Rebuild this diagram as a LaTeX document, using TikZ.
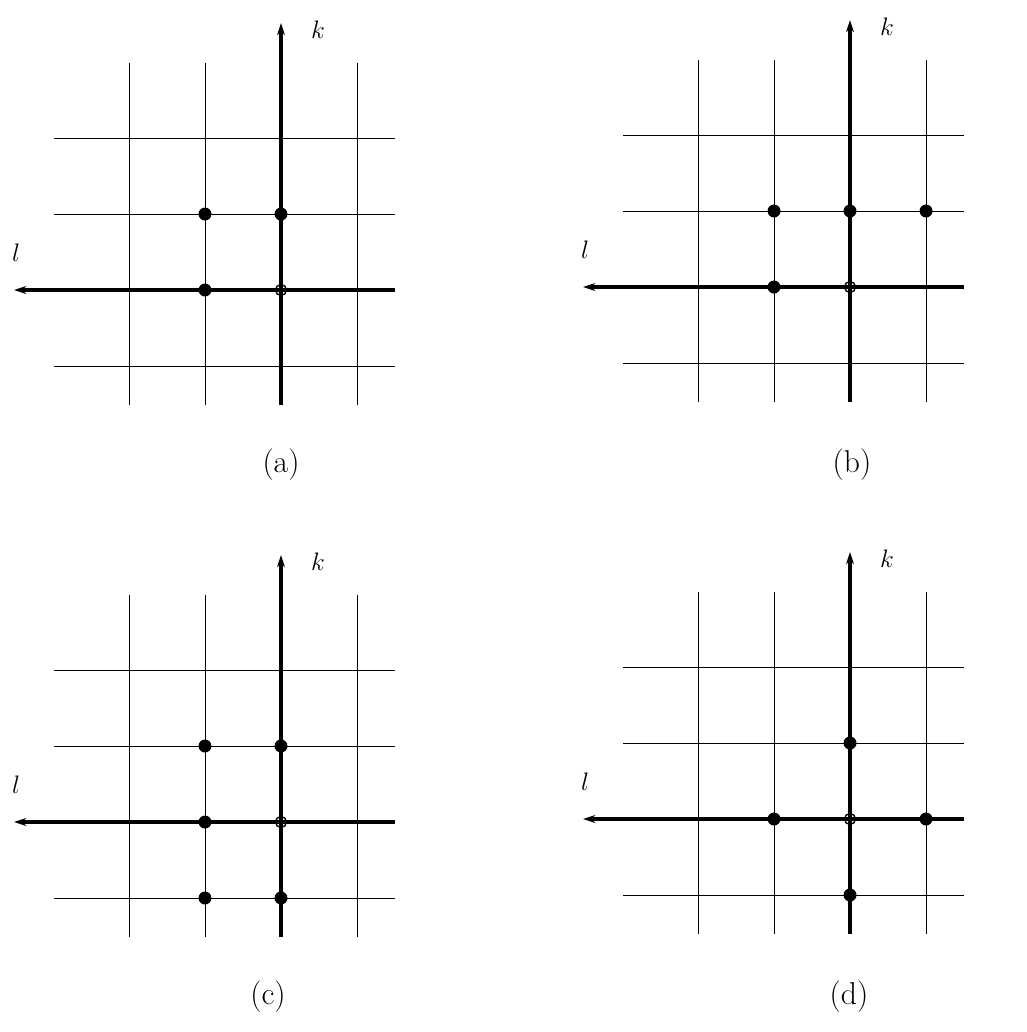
\documentclass[tikz,border=0pt]{standalone}
\usetikzlibrary{arrows.meta}
\begin{document}
\begin{tikzpicture}[
    x=0.02cm, y=-0.02cm,
    gridline/.style={line width=0.55pt, black},
    axis/.style={line width=2pt, -{Stealth[length=7pt, width=4.5pt]}},
    site/.style={circle, fill=black, inner sep=0pt, minimum size=0.26cm},
    origin/.style={circle, draw=black, line width=0.8pt, inner sep=0pt, minimum size=0.22cm},
    lbl/.style={font=\fontsize{14.5}{16}\selectfont},
    caption/.style={font=\fontsize{18}{20}\selectfont}
]
    \useasboundingbox (0,0) rectangle (1027,1032);
    \def\u{76}

    % one panel per entry: name / origin / caption position / lattice sites
    \foreach \n/\ox/\oy/\cx/\cy/\pts in {
        a/281/290/281/465/{-1/0,-1/1,0/1},
        b/850/287/852/465/{-1/1,0/1,1/1,-1/0},
        c/281/822/268/997/{-1/1,0/1,-1/0,-1/-1,0/-1},
        d/850/819/849/997/{0/1,-1/0,1/0,0/-1}}{
    \begin{scope}[shift={(\ox,\oy)}]
        % thin grid lines
        \foreach \i in {-2,-1,1}
            \draw[gridline] ({\i*\u},-227) -- ({\i*\u},115);
        \foreach \j in {-1,1,2}
            \draw[gridline] (-227,{-(\j)*\u}) -- (114,{-(\j)*\u});

        % axes
        \coordinate (\n-o) at (0,0);
        \coordinate (\n-ktip) at (0,-267);
        \coordinate (\n-kend) at (0,115);
        \coordinate (\n-ltip) at (-267,0);
        \coordinate (\n-lend) at (114,0);
        \draw[axis] (\n-kend) -- (\n-ktip);
        \draw[axis] (\n-lend) -- (\n-ltip);
        \node[lbl] (\n-k) at (37,-260) {$k$};
        \node[lbl] (\n-l) at (-265,-37) {$l$};

        % sites and origin
        \foreach \i/\j in \pts
            \node[site] (\n-s\i\j) at ({\i*\u},{-(\j)*\u}) {};
        \node[origin] (\n-origin) at (\n-o) {};
    \end{scope}
    \node[caption] (\n-cap) at (\cx,\cy) {(\n)};
    }
\end{tikzpicture}
\end{document}
